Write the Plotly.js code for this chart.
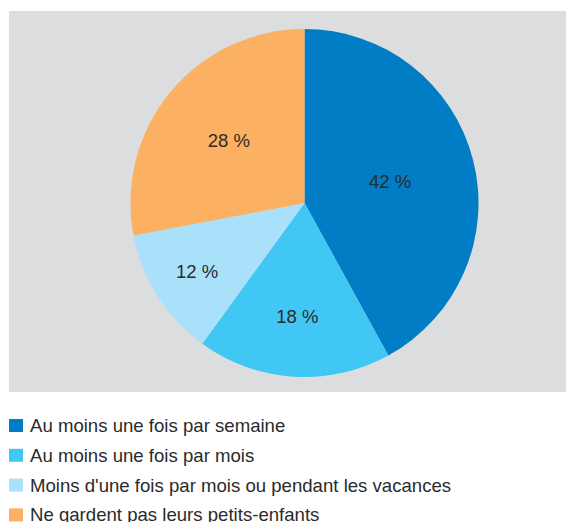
<!DOCTYPE html>
<html>
<head>
<meta charset="utf-8">
<script src="https://cdn.plot.ly/plotly-3.0.1.min.js"></script>
<style>html,body{margin:0;padding:0;background:#fff;}#chart{width:566px;height:522px;}</style>
</head>
<body>
<div id="chart"></div>
<script>
const categories = [
  "Au moins une fois par semaine",
  "Au moins une fois par mois",
  "Moins d'une fois par mois ou pendant les vacances",
  "Ne gardent pas leurs petits-enfants"
];
const values = [42, 18, 12, 28];
const colors = ["#007dc5", "#40c7f4", "#a9e0fa", "#fbb062"];

const W = 566, H = 522;
const px = x => x / W;
const py = y => 1 - y / H;
const textColor = "#2b2b2b";
const fontFamily = "Arial, 'Liberation Sans', sans-serif";

const trace = {
  type: "pie",
  labels: categories,
  values: values,
  sort: false,
  direction: "clockwise",
  rotation: 0,
  marker: { colors: colors, line: { width: 0 } },
  texttemplate: "%{value} %",
  textposition: "inside",
  insidetextorientation: "horizontal",
  textfont: { family: fontFamily, size: 18.5, color: textColor },
  hoverinfo: "label+value",
  showlegend: false,
  domain: { x: [px(130.5), px(478.5)], y: [py(377), py(29)] }
};

const shapes = [{
  type: "rect", xref: "paper", yref: "paper", layer: "below",
  x0: px(9), x1: 1, y0: py(392), y1: py(11),
  fillcolor: "#dcdddf", line: { width: 0 }
}];
const annotations = [];
const legendTop = 425.5, legendStep = 29.8;
categories.forEach((c, i) => {
  const yc = legendTop + i * legendStep;
  shapes.push({
    type: "rect", xref: "paper", yref: "paper",
    x0: px(9), x1: px(23), y0: py(yc + 6.5), y1: py(yc - 6.5),
    fillcolor: colors[i], line: { width: 0 }
  });
  annotations.push({
    xref: "paper", yref: "paper", x: px(27.5), y: py(yc),
    xanchor: "left", yanchor: "middle", showarrow: false,
    text: c, font: { family: fontFamily, size: 18.6, color: textColor }
  });
});

const layout = {
  width: W, height: H,
  margin: { l: 0, r: 0, t: 0, b: 0, pad: 0 },
  paper_bgcolor: "#ffffff",
  showlegend: false,
  shapes: shapes,
  annotations: annotations
};

Plotly.newPlot("chart", [trace], layout, { displayModeBar: false, staticPlot: true });
</script>
</body>
</html>
